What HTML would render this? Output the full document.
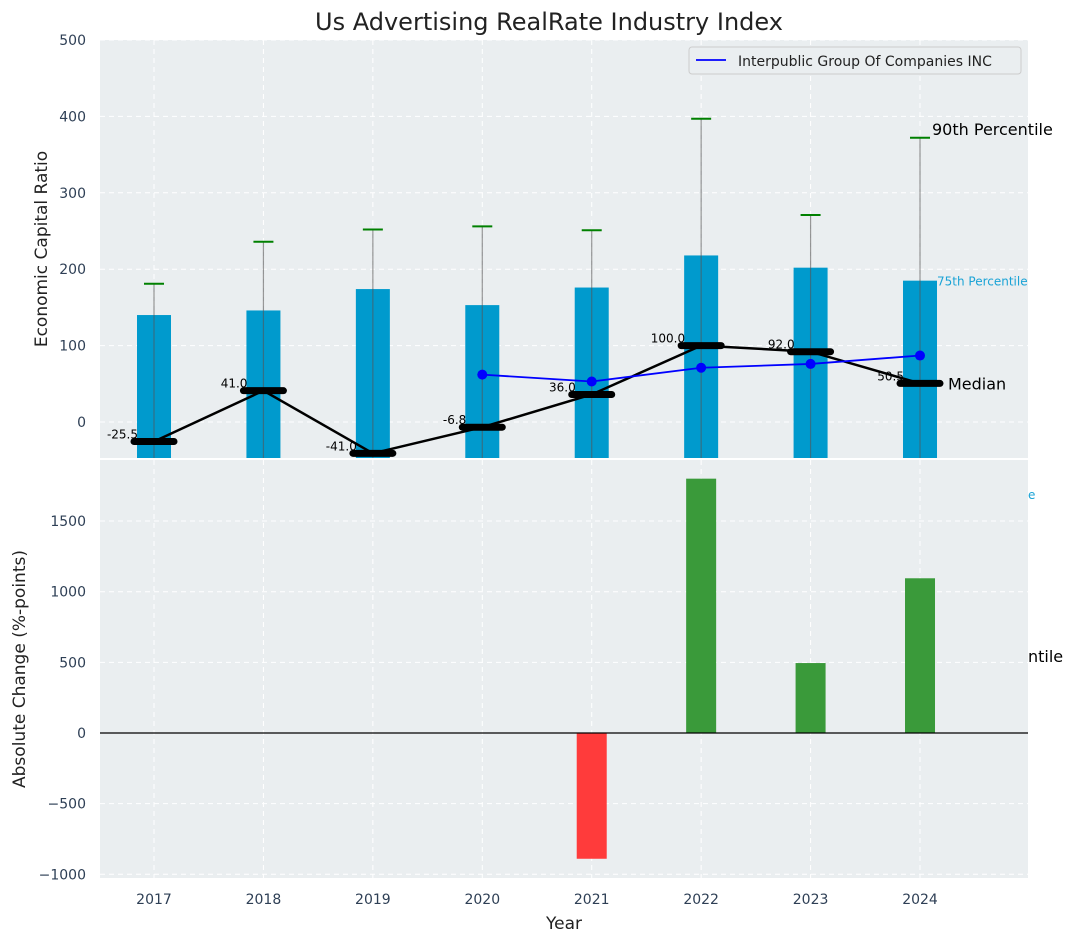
<!DOCTYPE html>
<html><head><meta charset="utf-8"><style>
body{margin:0;background:#fff;}
svg text{font-family:"DejaVu Sans","Liberation Sans",sans-serif;}
</style></head><body>
<svg id="c" width="1067" height="942" xmlns="http://www.w3.org/2000/svg"></svg>
<script>
const years=[2017,2018,2019,2020,2021,2022,2023,2024];
const p75=[140,146,174,153,176,218,202,185];
const p90=[181,236,252,256,251,397,271,372];
const medians=[-25.5,41,-41,-6.8,36,100,92,50.5];
const compYears=[2020,2021,2022,2023,2024];
const compVals=[62,53,71,76,87];
const changeYears=[2021,2022,2023,2024];
const changeVals=[-890,1800,495,1095];
const topTicks=[0,100,200,300,400,500];
const botTicks=[-1000,-500,0,500,1000,1500];

const NS="http://www.w3.org/2000/svg";
const svg=document.getElementById('c');
function el(t,a,p){const e=document.createElementNS(NS,t);for(const k in a)e.setAttribute(k,a[k]);(p||svg).appendChild(e);return e;}
const X=y=>154+(y-2017)*109.43;
const Yt=v=>422-v*0.764;
const Yb=v=>733-v*0.1413;

// title
let t=el('text',{x:549,y:30,'text-anchor':'middle','font-size':24,fill:'#222'});t.textContent='Us Advertising RealRate Industry Index';


// top axes
let bg=el('rect',{x:100,y:40,width:928,height:418,fill:'#eaeef0'});

const gTop=el('g',{});
const clipT=el('clipPath',{id:'ct'});el('rect',{x:100,y:40,width:928,height:418},clipT);
gTop.setAttribute('clip-path','url(#ct)');
topTicks.forEach(v=>{el('line',{x1:100,x2:1028,y1:Yt(v),y2:Yt(v),stroke:'#fff','stroke-dasharray':'5,4','stroke-width':1},gTop);
 let tt=el('text',{x:86,y:Yt(v)+5,'text-anchor':'end','font-size':14,fill:'#2e3f55'});tt.textContent=v;
 });
years.forEach(y=>el('line',{x1:X(y),x2:X(y),y1:40,y2:458,stroke:'#fff','stroke-dasharray':'5,4'},gTop));
years.forEach((y,i)=>{
 let b=el('rect',{x:X(y)-17,y:Yt(p75[i]),width:34,height:Yt(-60)-Yt(p75[i]),fill:'#009acd'},gTop);
 
 el('line',{x1:X(y),x2:X(y),y1:Yt(p90[i]),y2:470,stroke:'#555','stroke-opacity':0.6,'stroke-width':1.2},gTop);
 let w=el('line',{x1:X(y)-10,x2:X(y)+10,y1:Yt(p90[i]),y2:Yt(p90[i]),stroke:'green','stroke-width':2},gTop);
 
});
let pts=years.map((y,i)=>X(y)+','+Yt(medians[i])).join(' ');
el('polyline',{points:pts,fill:'none',stroke:'#000','stroke-width':2.5},gTop);
years.forEach((y,i)=>{
 let m=el('line',{x1:X(y)-20,x2:X(y)+20,y1:Yt(medians[i]),y2:Yt(medians[i]),stroke:'#000','stroke-width':7,'stroke-linecap':'round'},gTop);
 
 let l=el('text',{x:X(y)-16,y:Yt(medians[i])-3,'text-anchor':'end','font-size':12,fill:'#000'},gTop);l.textContent=medians[i].toFixed(1);
});
el('polyline',{points:compYears.map((y,i)=>X(y)+','+Yt(compVals[i])).join(' '),fill:'none',stroke:'#0000ff','stroke-width':1.8},gTop);
compYears.forEach((y,i)=>{let c=el('circle',{cx:X(y),cy:Yt(compVals[i]),r:5,fill:'#0000ff'},gTop);
 });
// annotations
const last=years.length-1;
let a1=el('text',{x:932,y:Yt(p90[last])-3,'font-size':16,fill:'#000'});a1.textContent='90th Percentile';

let a2=el('text',{x:937,y:Yt(p75[last])+5,'font-size':12,fill:'#1aa3d6'});a2.textContent='75th Percentile';

let a3=el('text',{x:948,y:Yt(medians[last])+6,'font-size':16,fill:'#000'});a3.textContent='Median';

// legend
let lg=el('g',{});
el('rect',{x:689,y:47,width:332,height:27,fill:'#eaeef0',stroke:'#ccc',rx:3},lg);
el('line',{x1:696,x2:726,y1:60,y2:60,stroke:'#0000ff','stroke-width':1.8},lg);
let lt=el('text',{x:738,y:66,'font-size':14,fill:'#222'},lg);lt.textContent='Interpublic Group Of Companies INC';
let yl=el('text',{x:47,y:249,'text-anchor':'middle','font-size':17,fill:'#222',transform:'rotate(-90 47 249)'});yl.textContent='Economic Capital Ratio';


// bottom axes
let bg2=el('rect',{x:100,y:460,width:928,height:418,fill:'#eaeef0'});

let e1=el('text',{x:1028,y:499,'font-size':12,fill:'#1aa3d6'});e1.textContent='e';
let e2=el('text',{x:1028,y:662,'font-size':16,fill:'#000'});e2.textContent='ntile';
botTicks.forEach(v=>{el('line',{x1:100,x2:1028,y1:Yb(v),y2:Yb(v),stroke:'#fff','stroke-dasharray':'5,4'});
 let tt=el('text',{x:86,y:Yb(v)+5,'text-anchor':'end','font-size':14,fill:'#2e3f55'});tt.textContent=v<0?'\u2212'+(-v):v;
 });
years.forEach(y=>{el('line',{x1:X(y),x2:X(y),y1:460,y2:878,stroke:'#fff','stroke-dasharray':'5,4'});
 let tt=el('text',{x:X(y),y:904,'text-anchor':'middle','font-size':14,fill:'#2e3f55'});tt.textContent=y;
 });
changeYears.forEach((y,i)=>{const v=changeVals[i];
 let b=el('rect',{x:X(y)-15,y:Math.min(Yb(v),Yb(0)),width:30,height:Math.abs(Yb(v)-Yb(0)),fill:v<0?'#ff3b3b':'#3a9a3a'});
 });
el('line',{x1:100,x2:1028,y1:Yb(0),y2:Yb(0),stroke:'#000','stroke-width':1.2});
let yl2=el('text',{x:25,y:669,'text-anchor':'middle','font-size':17,fill:'#222',transform:'rotate(-90 25 669)'});yl2.textContent='Absolute Change (%-points)';

let xl=el('text',{x:564,y:929,'text-anchor':'middle','font-size':17,fill:'#222'});xl.textContent='Year';

</script>
</body></html>
